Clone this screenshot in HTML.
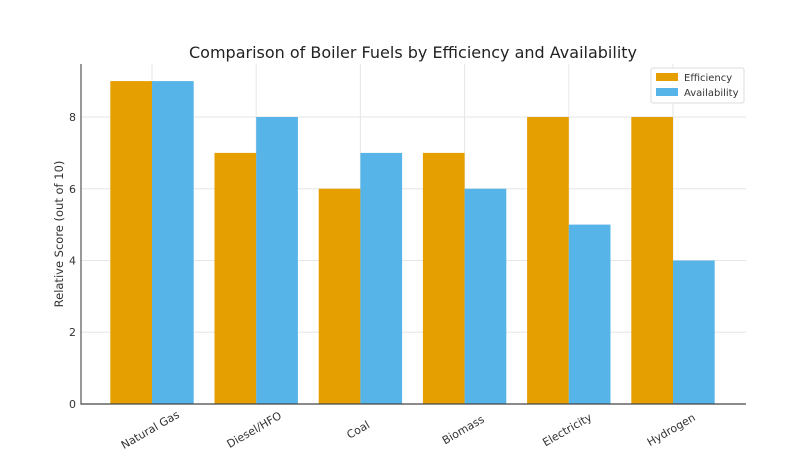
<!DOCTYPE html><html><head><style>body{margin:0;background:#fff}</style></head><body>
<svg width="799" height="451" xmlns="http://www.w3.org/2000/svg" font-family="DejaVu Sans, Liberation Sans, sans-serif">
<rect width="799" height="451" fill="#fff"/>
<g stroke="#e6e6e6" stroke-width="1">
<line x1="81" x2="746" y1="332.25" y2="332.25"/><line x1="81" x2="746" y1="260.5" y2="260.5"/><line x1="81" x2="746" y1="188.75" y2="188.75"/><line x1="81" x2="746" y1="117" y2="117"/>
<line x1="152" x2="152" y1="64" y2="404"/><line x1="256.2" x2="256.2" y1="64" y2="404"/><line x1="360.4" x2="360.4" y1="64" y2="404"/><line x1="464.6" x2="464.6" y1="64" y2="404"/><line x1="568.8" x2="568.8" y1="64" y2="404"/><line x1="673" x2="673" y1="64" y2="404"/>
</g>
<g fill="#E69F00">
<rect x="110.3" y="81.1" width="41.7" height="322.9"/>
<rect x="214.5" y="152.9" width="41.7" height="251.1"/>
<rect x="318.7" y="188.75" width="41.7" height="215.25"/>
<rect x="422.9" y="152.9" width="41.7" height="251.1"/>
<rect x="527.1" y="117" width="41.7" height="287"/>
<rect x="631.3" y="117" width="41.7" height="287"/>
</g>
<g fill="#56B4E9">
<rect x="152" y="81.1" width="41.7" height="322.9"/>
<rect x="256.2" y="117" width="41.7" height="287"/>
<rect x="360.4" y="152.9" width="41.7" height="251.1"/>
<rect x="464.6" y="188.75" width="41.7" height="215.25"/>
<rect x="568.8" y="224.6" width="41.7" height="179.4"/>
<rect x="673" y="260.5" width="41.7" height="143.5"/>
</g>
<line x1="81" y1="64" x2="81" y2="404.5" stroke="#555" stroke-width="1.2"/>
<line x1="80.5" y1="404" x2="746" y2="404" stroke="#444" stroke-width="1.2"/>
<g font-size="11" fill="#333" text-anchor="end">
<text x="76" y="408">0</text><text x="76" y="336">2</text><text x="76" y="264.5">4</text><text x="76" y="193">6</text><text x="76" y="121">8</text>
</g>
<g font-size="11" fill="#333" text-anchor="middle">
<text transform="translate(152,433) rotate(-30)">Natural Gas</text>
<text transform="translate(256,433) rotate(-30)">Diesel/HFO</text>
<text transform="translate(360,433) rotate(-30)">Coal</text>
<text transform="translate(465,433) rotate(-30)">Biomass</text>
<text transform="translate(569,433) rotate(-30)">Electricity</text>
<text transform="translate(673,433) rotate(-30)">Hydrogen</text>
</g>
<text transform="translate(63,234) rotate(-90)" font-size="11.5" fill="#333" text-anchor="middle">Relative Score (out of 10)</text>
<text x="413" y="58" font-size="16" fill="#222" text-anchor="middle">Comparison of Boiler Fuels by Efficiency and Availability</text>
<rect x="651" y="68" width="93" height="35" fill="#fff" stroke="#ddd" rx="2"/>
<rect x="656" y="73" width="22" height="8" fill="#E69F00"/>
<rect x="656" y="88" width="22" height="8" fill="#56B4E9"/>
<g font-size="10" fill="#333"><text x="684" y="81">Efficiency</text><text x="684" y="96">Availability</text></g>
</svg></body></html>
